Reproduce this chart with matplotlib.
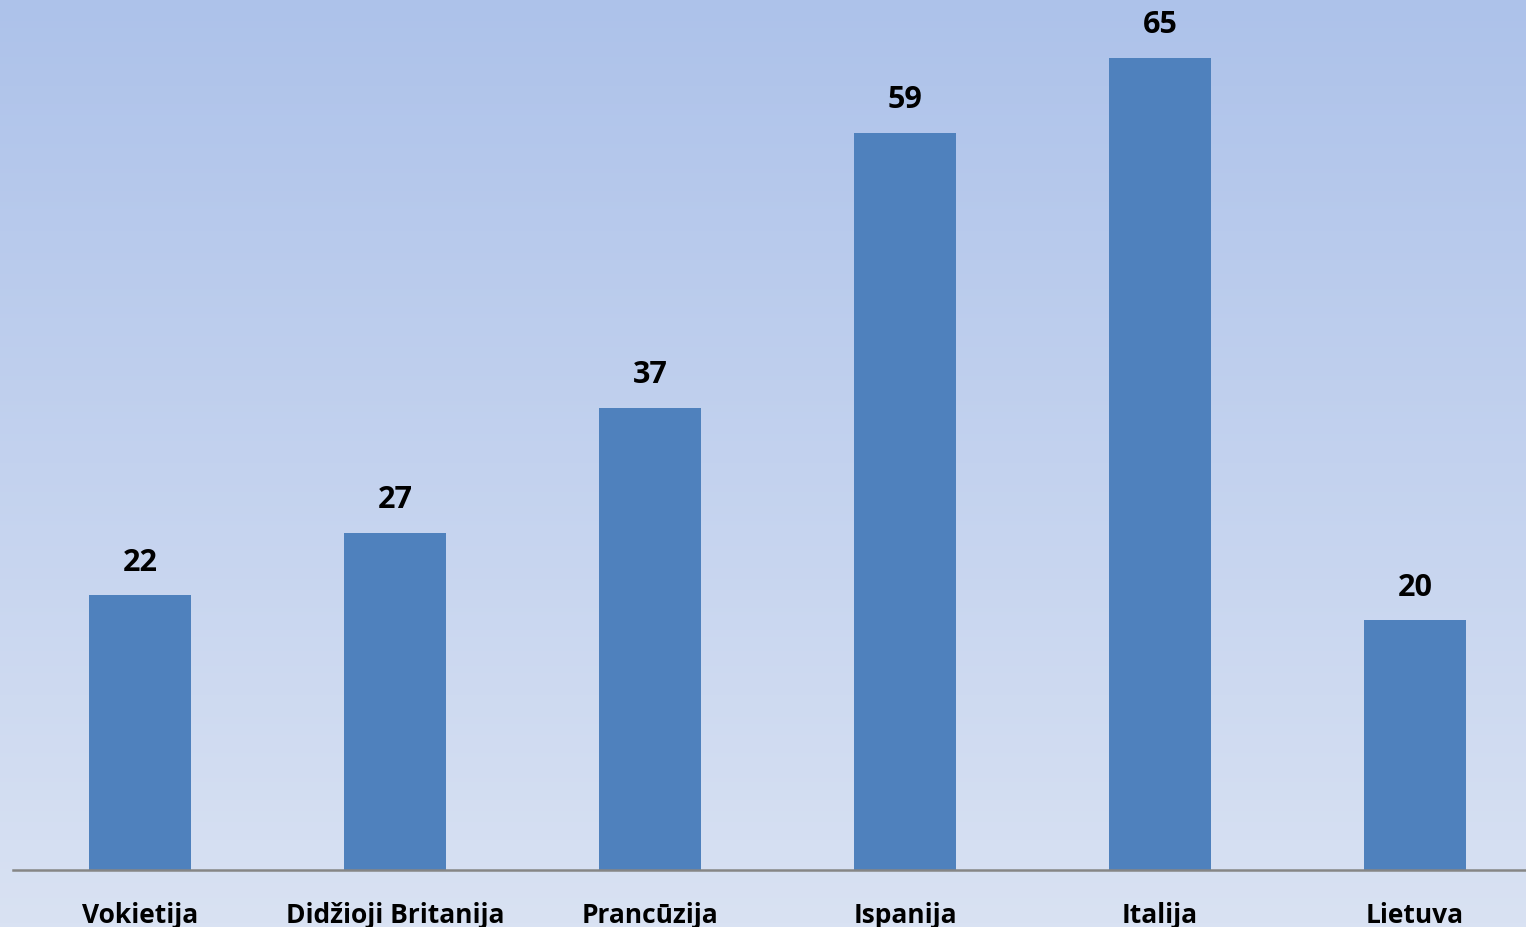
import numpy as np
import matplotlib
matplotlib.use("Agg")
import matplotlib.pyplot as plt

countries = ["Vokietija", "Didžioji Britanija", "Prancūzija", "Ispanija", "Italija", "Lietuva"]
values = [22, 27, 37, 59, 65, 20]

plt.rcParams["font.family"] = ["Open Sans", "DejaVu Sans"]

fig = plt.figure(figsize=(15.26, 9.28), dpi=100)

# gradient background over the whole figure
bg = fig.add_axes([0, 0, 1, 1], zorder=0)
top = np.array([0xAD, 0xC2, 0xEA]) / 255
bottom = np.array([0xD9, 0xE2, 0xF3]) / 255
t = np.linspace(0, 1, 256)[:, None]
grad = (top * (1 - t) + bottom * t)[:, None, :]
bg.imshow(grad, aspect="auto", extent=[0, 1, 0, 1])
bg.axis("off")

ax = fig.add_axes([13 / 1526, 57 / 928, 1 - 13 / 1526, 871 / 928], zorder=1)
ax.patch.set_alpha(0)

x = np.arange(len(countries))
ax.bar(x, values, width=0.4, color="#4F81BD", zorder=2)
for xi, v in zip(x, values):
    ax.annotate(str(v), (xi, v), xytext=(0, 13), textcoords="offset points",
                ha="center", va="bottom", fontsize=22, fontweight="bold", color="black")

ax.set_xlim(-0.498, 5.435)
ax.set_ylim(0, 69.68)
ax.set_xticks(x)
ax.set_xticklabels(countries, fontsize=19, fontweight="bold")
ax.tick_params(axis="x", length=0, pad=22)
ax.set_yticks([])
for s in ["top", "right", "left"]:
    ax.spines[s].set_visible(False)
ax.spines["bottom"].set_color("#868686")
ax.spines["bottom"].set_linewidth(1.8)

fig.savefig("out.png", dpi=100)
